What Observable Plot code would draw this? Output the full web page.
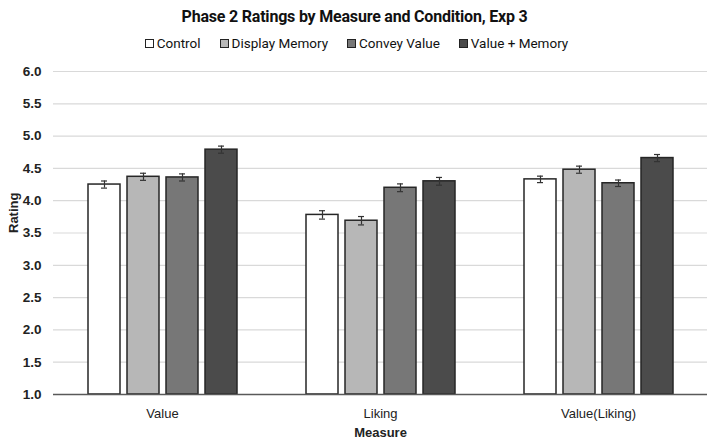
<!DOCTYPE html>
<html>
<head>
<meta charset="utf-8">
<script src="https://cdn.jsdelivr.net/npm/d3@7"></script>
<script src="https://cdn.jsdelivr.net/npm/@observablehq/plot@0.6"></script>
<style>
  html, body { margin: 0; padding: 0; background: #fff; }
  body { width: 709px; height: 442px; overflow: hidden; font-family: "Liberation Sans", Roboto, sans-serif; }
  #title { height: 31px; line-height: 34px; text-align: center; font-weight: bold; font-size: 16px; color: #111; font-family: Roboto, "Liberation Sans", sans-serif; letter-spacing: -0.2px; }
  #legend { height: 24px; display: flex; justify-content: center; align-items: center; gap: 19px; font-size: 13.5px; color: #111; font-family: Roboto, "Liberation Sans", sans-serif; padding-left: 4px; }
  .item { display: flex; align-items: center; gap: 3px; }
  .sw { width: 9px; height: 9px; border: 1.2px solid #222; box-sizing: border-box; }
  #chart svg { display: block; }
</style>
</head>
<body>
<div id="title">Phase 2 Ratings by Measure and Condition, Exp 3</div>
<div id="legend"></div>
<div id="chart"></div>
<script>
// Measures (x groups) and conditions (bars within a group)
const measures = ["Value", "Liking", "Value(Liking)"];
const conditions = ["Control", "Display Memory", "Convey Value", "Value + Memory"];
const fills = ["#ffffff", "#b7b7b7", "#777777", "#4b4b4b"];

// Mean ratings per measure, in condition order
const valueMeans = [4.25, 4.37, 4.36, 4.79];
const likingMeans = [3.78, 3.69, 4.20, 4.30];
const valueLikingMeans = [4.33, 4.48, 4.27, 4.66];

// Standard errors per measure, in condition order
const valueErr = [0.055, 0.055, 0.055, 0.055];
const likingErr = [0.065, 0.065, 0.06, 0.06];
const valueLikingErr = [0.05, 0.055, 0.05, 0.055];

const yTicks = [1.0, 1.5, 2.0, 2.5, 3.0, 3.5, 4.0, 4.5, 5.0, 5.5, 6.0];

const meansByMeasure = [valueMeans, likingMeans, valueLikingMeans];
const errByMeasure = [valueErr, likingErr, valueLikingErr];
const rows = measures.flatMap((m, i) => conditions.map((c, j) => ({
  measure: m, condition: c, rating: meansByMeasure[i][j], se: errByMeasure[i][j]
})));

// Legend
const legend = document.getElementById("legend");
conditions.forEach((c, j) => {
  const it = document.createElement("div");
  it.className = "item";
  const sw = document.createElement("div");
  sw.className = "sw";
  sw.style.background = fills[j];
  const t = document.createElement("span");
  t.textContent = c;
  it.append(sw, t);
  legend.append(it);
});

const chart = Plot.plot({
  width: 709,
  height: 387,
  marginTop: 16,
  marginBottom: 48,
  marginLeft: 52,
  marginRight: 1,
  style: { fontFamily: "'Liberation Sans', Roboto, sans-serif", fontSize: "13px", color: "#222" },
  fx: { domain: measures, padding: 0, label: null },
  x: { domain: conditions, paddingInner: 0.18, paddingOuter: 0.86, axis: null },
  y: { domain: [1, 6], ticks: yTicks, label: null },
  color: { domain: conditions, range: fills },
  marks: [
    // horizontal gridlines (facets abut, so they read as continuous lines)
    Plot.ruleY(yTicks.slice(1), { stroke: "#d9d9d9", strokeWidth: 1.2 }),
    Plot.axisY(yTicks, { tickSize: 0, tickPadding: 12, tickFormat: d => d.toFixed(1), fontWeight: "bold", fontSize: 13.5, label: null }),
    Plot.axisFx({ anchor: "bottom", tickSize: 0, tickPadding: 14, fontSize: 13, label: null }),
    Plot.barY(rows, {
      fx: "measure", x: "condition", y1: 1, y2: "rating",
      fill: "condition", stroke: "#262626", strokeWidth: 1.5
    }),
    Plot.ruleX(rows, {
      fx: "measure", x: "condition", y1: d => d.rating - d.se, y2: d => d.rating + d.se,
      stroke: "#333", strokeWidth: 1.2
    }),
    Plot.tickY(rows, {
      fx: "measure", x: "condition", y: d => d.rating + d.se,
      stroke: "#333", strokeWidth: 1.2, insetLeft: 13, insetRight: 13
    }),
    Plot.tickY(rows, {
      fx: "measure", x: "condition", y: d => d.rating - d.se,
      stroke: "#333", strokeWidth: 1.2, insetLeft: 13, insetRight: 13
    }),
    Plot.ruleY([1], { stroke: "#595959", strokeWidth: 1.5 }),
    Plot.text(["Rating"], { frameAnchor: "left", dx: -40, rotate: -90, fontWeight: "bold", fontSize: 13, facet: "super" }),
    Plot.text(["Measure"], { frameAnchor: "bottom", dy: 42, fontWeight: "bold", fontSize: 13, facet: "super" })
  ]
});
document.getElementById("chart").append(chart);
</script>
</body>
</html>
